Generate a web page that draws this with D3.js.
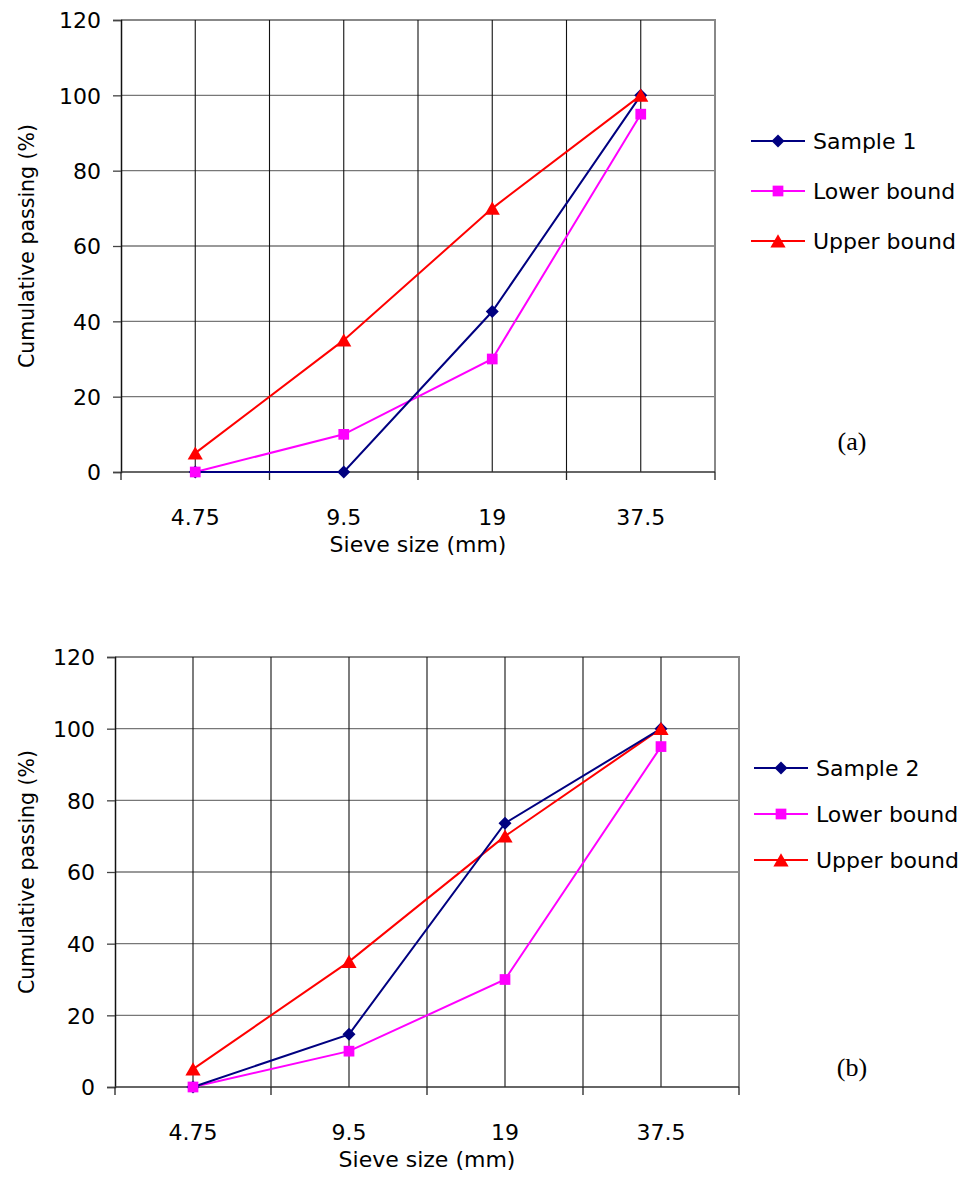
<!DOCTYPE html>
<html>
<head>
<meta charset="utf-8">
<script src="https://cdn.jsdelivr.net/npm/d3@7"></script>
<style>
  body { margin: 0; background: #fff; }
  text { font-family: "DejaVu Sans", sans-serif; fill: #000; }
</style>
</head>
<body>
<svg id="chart" width="967" height="1177"></svg>
<script>
// sieve sizes (category axis)
const sieves = ['4.75', '9.5', '19', '37.5'];
const yTicks = [0, 20, 40, 60, 80, 100, 120];

// grading limits, same for both charts
const lowerBound = [0, 10, 30, 95];
const upperBound = [5, 35, 70, 100];

// measured gradings
const sample1 = [0, 0, 42.6, 100];
const sample2 = [0, 14.7, 73.6, 100];

const svg = d3.select('#chart');

// marker drawing: diamond is a square turned 45 degrees
function marker (shape) {
  if (shape === 'diamond') return {d: d3.symbol().type(d3.symbolSquare).size(85)(), rot: 45, dy: 0};
  if (shape === 'square') return {d: d3.symbol().type(d3.symbolSquare).size(115)(), rot: 0, dy: 0};
  return {d: d3.symbol().type(d3.symbolTriangle).size(100)(), rot: 0, dy: 2};
}

function drawChart (opts) {
  const {left, right, top, bottom, sampleName, sampleValues, tag, legendX, legendY, legendGap} = opts;

  const x = d3.scaleBand().domain(sieves).range([left, right]).padding(0);
  const y = d3.scaleLinear().domain([0, 120]).range([bottom, top]);
  const g = svg.append('g');

  // horizontal grid
  g.selectAll('.hgrid')
      .data(yTicks.filter(d => d > 0))
    .enter().append('line')
      .attr('x1', left).attr('x2', right)
      .attr('y1', d => y(d)).attr('y2', d => y(d))
      .attr('stroke', d => d === 120 ? '#888' : '#777')
      .attr('stroke-width', d => d === 120 ? 2 : 1.3);

  // vertical grid: band boundaries and centers
  const vLines = [];
  sieves.forEach(s => {
    vLines.push(x(s));
    vLines.push(x(s) + x.bandwidth() / 2);
  });
  g.selectAll('.vgrid')
      .data(vLines.slice(1))
    .enter().append('line')
      .attr('x1', d => d).attr('x2', d => d)
      .attr('y1', top).attr('y2', bottom)
      .attr('stroke', '#111')
      .attr('stroke-width', 1.1);

  // right border
  g.append('line')
      .attr('x1', right).attr('x2', right)
      .attr('y1', top - 1).attr('y2', bottom)
      .attr('stroke', '#888')
      .attr('stroke-width', 2);

  // y axis
  const yAxis = g.append('g')
      .attr('transform', `translate(${left},0)`)
      .call(d3.axisLeft(y).tickValues(yTicks).tickSize(8).tickPadding(12));
  yAxis.select('.domain').attr('stroke', '#111').attr('stroke-width', 1.5);
  yAxis.selectAll('.tick line').attr('stroke', '#444').attr('stroke-width', 1.3);
  yAxis.selectAll('text').style('font-size', '22px').attr('dy', '0.36em');

  // x axis: ticks at band boundaries, labels at centers
  const xBounds = sieves.map(s => x(s)).concat([right]);
  g.append('line')
      .attr('x1', left).attr('x2', right)
      .attr('y1', bottom).attr('y2', bottom)
      .attr('stroke', '#333').attr('stroke-width', 1.5);
  g.selectAll('.xtick')
      .data(xBounds)
    .enter().append('line')
      .attr('x1', d => d).attr('x2', d => d)
      .attr('y1', bottom).attr('y2', bottom + 8)
      .attr('stroke', '#222').attr('stroke-width', 1.3);
  g.selectAll('.xlabel')
      .data(sieves)
    .enter().append('text')
      .attr('x', d => x(d) + x.bandwidth() / 2)
      .attr('y', bottom + 53)
      .attr('text-anchor', 'middle')
      .style('font-size', '22px')
      .text(d => d);

  g.append('text')
      .attr('x', (left + right) / 2)
      .attr('y', bottom + 80)
      .attr('text-anchor', 'middle')
      .style('font-size', '22px')
      .text('Sieve size (mm)');

  g.append('text')
      .attr('transform', `translate(34,${(top + bottom) / 2}) rotate(-90)`)
      .attr('text-anchor', 'middle')
      .style('font-size', '20.5px')
      .text('Cumulative passing  (%)');

  const series = [
    {name: sampleName, values: sampleValues, color: '#000080', shape: 'diamond'},
    {name: 'Lower bound', values: lowerBound, color: '#ff00ff', shape: 'square'},
    {name: 'Upper bound', values: upperBound, color: '#ff0000', shape: 'triangle'}
  ];

  const line = d3.line()
      .x((d, i) => x(sieves[i]) + x.bandwidth() / 2)
      .y(d => y(d));

  series.slice().reverse().forEach(s => {
    g.append('path')
        .datum(s.values)
        .attr('fill', 'none')
        .attr('stroke', s.color)
        .attr('stroke-width', 2)
        .attr('d', line);
  });
  series.forEach(s => {
    const m = marker(s.shape);
    g.selectAll(null)
        .data(s.values)
      .enter().append('path')
        .attr('transform', (d, i) => `translate(${x(sieves[i]) + x.bandwidth() / 2},${y(d) + m.dy}) rotate(${m.rot})`)
        .attr('d', m.d)
        .attr('fill', s.color);
  });

  // legend
  const leg = g.selectAll('.legend')
      .data(series)
    .enter().append('g')
      .attr('transform', (d, i) => `translate(${legendX},${legendY + i * legendGap})`);
  leg.append('line')
      .attr('x1', 0).attr('x2', 54)
      .attr('stroke', d => d.color)
      .attr('stroke-width', 2);
  leg.append('path')
      .attr('transform', d => {
        const m = marker(d.shape);
        return `translate(27,${m.dy}) rotate(${m.rot})`;
      })
      .attr('d', d => marker(d.shape).d)
      .attr('fill', d => d.color);
  leg.append('text')
      .attr('x', 62)
      .attr('dy', '0.36em')
      .style('font-size', '22px')
      .text(d => d.name);

  g.append('text')
      .attr('x', tag.x)
      .attr('y', tag.y)
      .attr('text-anchor', 'middle')
      .style('font-family', '"Liberation Serif", serif')
      .style('font-size', '26px')
      .text(tag.label);
}

drawChart({
  left: 121, right: 715, top: 20, bottom: 472,
  sampleName: 'Sample 1', sampleValues: sample1,
  tag: {label: '(a)', x: 852, y: 450},
  legendX: 751, legendY: 141, legendGap: 50
});

drawChart({
  left: 115, right: 739, top: 657, bottom: 1087,
  sampleName: 'Sample 2', sampleValues: sample2,
  tag: {label: '(b)', x: 852, y: 1076},
  legendX: 754, legendY: 768, legendGap: 46
});
</script>
</body>
</html>
